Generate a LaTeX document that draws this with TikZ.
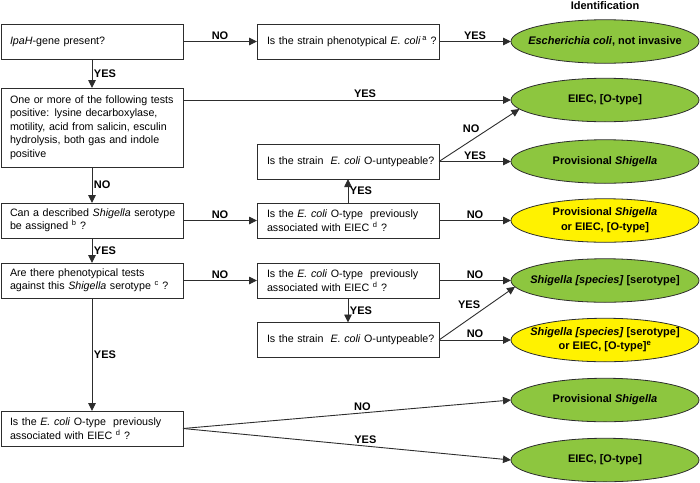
\documentclass[tikz,border=0pt]{standalone}
\usepackage{fontspec}
\setmainfont{Liberation Sans}
\usetikzlibrary{arrows.meta,shapes.geometric}
\definecolor{okgreen}{RGB}{141,198,63}
\definecolor{okyellow}{RGB}{255,242,0}
\definecolor{linegrey}{RGB}{45,45,45}
\newcommand{\lind}[1]{\leftskip=7pt\relax\rightskip=-20pt plus 1fil\relax #1\par}
\newcommand{\mind}[1]{\leftskip=8pt\relax\rightskip=-20pt plus 1fil\relax #1\par}
\begin{document}
\begin{tikzpicture}[x=1pt,y=-1pt,
  every node/.style={font=\fontsize{10.7}{13.4}\selectfont},
  qbox/.style={draw=linegrey, line width=0.9pt, fill=white, rectangle,
    text width=178pt, inner xsep=2pt, inner ysep=3pt, align=left,
    minimum height=35pt, outer sep=0pt},
  outcome/.style={ellipse, draw=linegrey, line width=0.8pt,
    minimum width=188pt, minimum height=43.5pt, inner sep=0pt, outer sep=0pt,
    font=\fontsize{11}{13.6}\selectfont\bfseries},
  green/.style={outcome, fill=okgreen},
  yellow/.style={outcome, fill=okyellow},
  lbl/.style={font=\fontsize{11}{13.4}\selectfont\bfseries, inner sep=1.5pt},
  hdr/.style={font=\fontsize{11}{13.4}\selectfont\bfseries, inner sep=0pt},
  arr/.style={draw=linegrey, line width=0.9pt, -{Triangle[length=8pt,width=7.5pt]}}
]
\useasboundingbox (0,0) rectangle (700,482);

% left column
\node[qbox] (b1) at (92,41.5) {\lind{\textit{IpaH}-gene present?}};
\node[qbox, minimum height=79pt] (b2) at (92,127.5) {\lind{One or more of the following tests\\positive: lysine decarboxylase,\\motility, acid from salicin, esculin\\hydrolysis, both gas and indole\\positive}};
\node[qbox] (b3) at (92,220.5) {\lind{Can a described \textit{Shigella} serotype\\be assigned \textsuperscript{b} ?}};
\node[qbox] (b4) at (92,280.5) {\lind{Are there phenotypical tests\\against this \textit{Shigella} serotype \textsuperscript{c} ?}};
\node[qbox] (b5) at (92,428.5) {\lind{Is the \textit{E. coli} O-type\ \ previously\\associated with EIEC \textsuperscript{d} ?}};

% middle column
\node[qbox] (m1) at (348,41.5) {\mind{Is the strain phenotypical \textit{E. coli}\,\textsuperscript{a} ?}};
\node[qbox] (m2) at (348,161.5) {\mind{Is the strain\ \ \textit{E. coli} O-untypeable?}};
\node[qbox] (m3) at (348,220.5) {\mind{Is the \textit{E. coli} O-type\ \ previously\\associated with EIEC \textsuperscript{d} ?}};
\node[qbox] (m4) at (348,280.5) {\mind{Is the \textit{E. coli} O-type\ \ previously\\associated with EIEC \textsuperscript{d} ?}};
\node[qbox] (m5) at (348,340) {\mind{Is the strain\ \ \textit{E. coli} O-untypeable?}};

% outcomes
\node[hdr, anchor=base] (hd) at (605,9) {Identification};
\node[green] (e1) at (605,41.5) {\makebox[0pt]{\textit{Escherichia coli}, not invasive}};
\node[green] (e2) at (605,100) {\makebox[0pt]{EIEC, [O-type]}};
\node[green] (e3) at (605,161.5) {\makebox[0pt]{Provisional \textit{Shigella}}};
\node[yellow] (e4) at (605,220.5) {\makebox[0pt]{\begin{tabular}{@{}c@{}}Provisional \textit{Shigella}\\[1.5pt] or EIEC, [O-type]\end{tabular}}};
\node[green] (e5) at (605,280.5) {\makebox[0pt]{\textit{Shigella [species]} [serotype]}};
\node[yellow] (e6) at (605,340) {\makebox[0pt]{\begin{tabular}{@{}c@{}}\textit{Shigella [species]} [serotype]\\ or EIEC, [O-type]\textsuperscript{e}\end{tabular}}};
\node[green] (e7) at (605,400) {\makebox[0pt]{Provisional \textit{Shigella}}};
\node[green] (e8) at (605,460) {\makebox[0pt]{EIEC, [O-type]}};

% connectors, left column
\draw[arr] (b1) -- node[lbl,right] {YES} (b2);
\draw[arr] (b2) -- node[lbl,right] {NO} (b3);
\draw[arr] (b3) -- node[lbl,right] {YES} (b4);
\draw[arr] (b4) -- node[lbl,right] {YES} (b5);

% to the middle column
\draw[arr] (b1) -- node[lbl,above] {NO} (m1);
\draw[arr] (b3) -- node[lbl,above] {NO} (m3);
\draw[arr] (b4) -- node[lbl,above] {NO} (m4);
\draw[arr] (m3) -- node[lbl,right] {YES} (m2);
\draw[arr] (m4) -- node[lbl,right] {YES} (m5);

% to outcomes
\draw[arr] (m1) -- node[lbl,above] {YES} (e1);
\draw[arr] (b2.east |- e2) -- node[lbl,above,pos=0.555] {YES} (e2);
\draw[arr] (m2.east) -- node[lbl,pos=0.52,anchor=south east,inner sep=1pt] {NO} (e2.186);
\draw[arr] (m2) -- node[lbl,above] {YES} (e3);
\draw[arr] (m3) -- node[lbl,above] {NO} (e4);
\draw[arr] (m4) -- node[lbl,above] {NO} (e5);
\draw[arr] (m5.east) -- node[lbl,pos=0.56,anchor=south east,inner sep=1pt] {YES} (e5.184);
\draw[arr] (m5) -- node[lbl,above] {NO} (e6);
\draw[arr] (b5.east) -- node[lbl,above,pos=0.547] {NO} (e7.west);
\draw[arr] (b5.east) -- node[lbl,above,pos=0.556] {YES} (e8.west);
\end{tikzpicture}
\end{document}
